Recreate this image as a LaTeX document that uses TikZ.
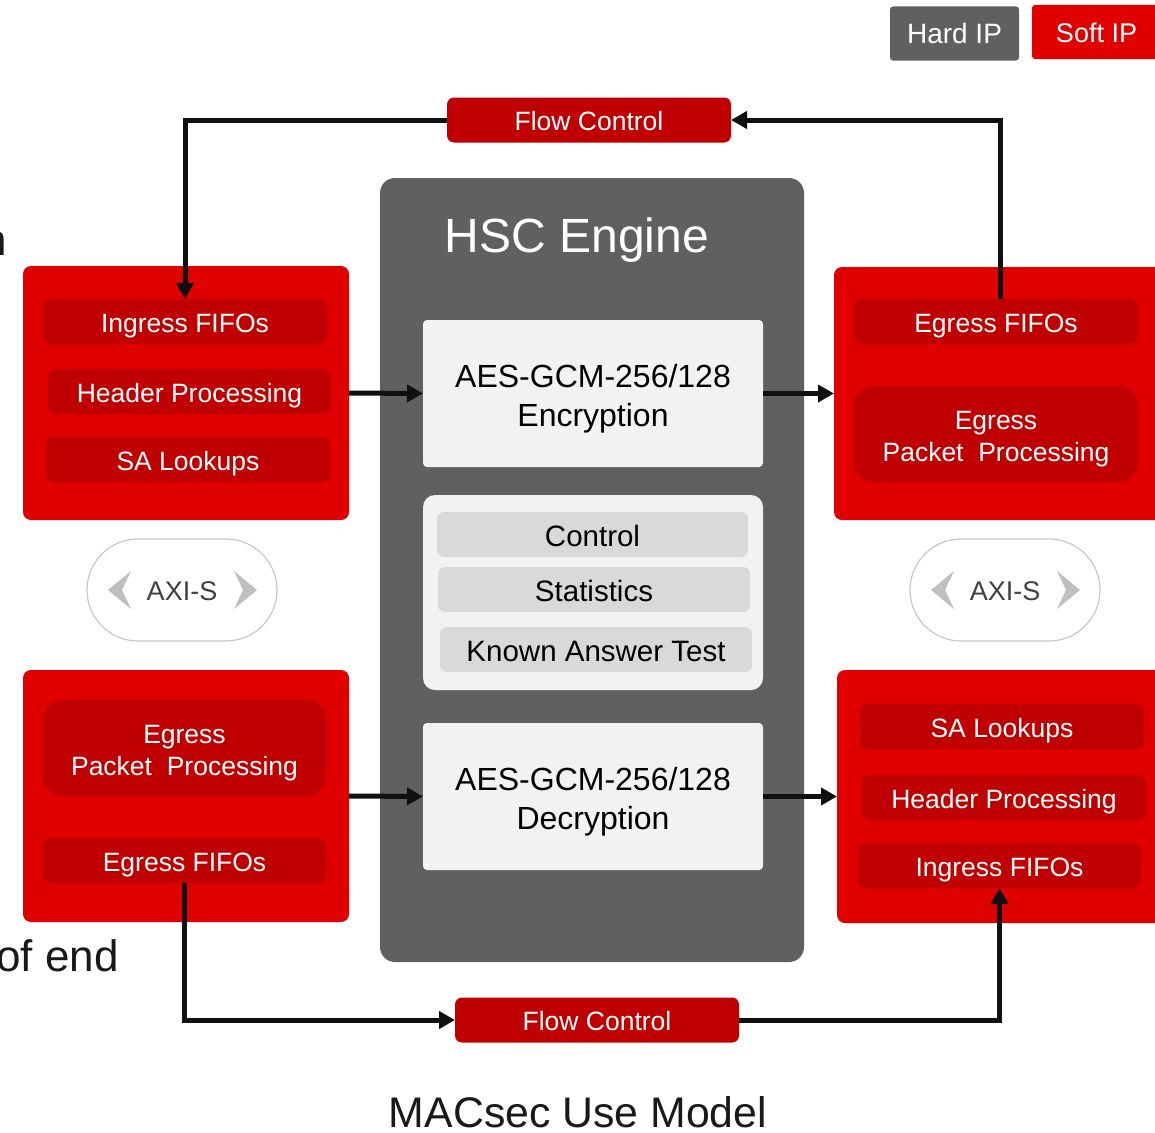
\documentclass[tikz,border=0pt]{standalone}
\usepackage{fontspec}
\setmainfont{Liberation Sans}
\usetikzlibrary{arrows.meta}
\definecolor{ipred}{HTML}{E00000}
\definecolor{ipdark}{HTML}{C00000}
\definecolor{hardgray}{HTML}{606060}
\definecolor{panel}{HTML}{F2F2F2}
\definecolor{cell}{HTML}{D9D9D9}
\definecolor{pillline}{HTML}{C8C8C8}
\definecolor{chev}{HTML}{BFBFBF}
\definecolor{wire}{HTML}{101010}
% two centred lines whose baseline is that of the first line
\newcommand\twoline[2]{\begin{tabular}[t]{@{}c@{}}#1\\#2\end{tabular}}
\tikzset{
  box/.style={inner sep=0pt, outer sep=0pt},
  redblock/.style={box, fill=ipred, rounded corners=8pt},
  redcell/.style={box, fill=ipdark, rounded corners=8pt, text=white,
                  font=\fontsize{26.5}{32}\selectfont, text height=21pt, text depth=0pt},
  redcellbig/.style={box, fill=ipdark, rounded corners=20pt, text=white,
                  font=\fontsize{26.5}{32}\selectfont, text height=22pt, text depth=32pt},
  engine/.style={box, fill=hardgray, rounded corners=15pt},
  cipher/.style={box, fill=panel, rounded corners=4pt, text=black,
                 font=\fontsize{32}{39}\selectfont, text height=26.5pt, text depth=39pt},
  ctlgroup/.style={box, fill=panel, rounded corners=12pt},
  ctlcell/.style={box, fill=cell, rounded corners=7pt, text=black,
                  font=\fontsize{29.5}{34}\selectfont, text height=23pt, text depth=0pt},
  flowbox/.style={box, fill=ipdark, rounded corners=7pt, text=white,
                  font=\fontsize{26.5}{32}\selectfont, text height=20pt, text depth=0pt},
  pill/.style={box, fill=white, draw=pillline, line width=1.2pt, rounded corners=51pt},
  pilltext/.style={text=black!75, font=\fontsize{27}{32}\selectfont, inner sep=0pt},
  chevron/.style={fill=chev, draw=none},
  legend/.style={box, rounded corners=3pt, text=white, text height=20pt, text depth=0pt},
  arr/.style={draw=wire, line width=5pt, -{Triangle[length=16pt,width=17pt]}},
}
\begin{document}
\begin{tikzpicture}[x=1pt, y=-1pt]
\useasboundingbox (0,0) rectangle (1155,1132);
\clip (0,0) rectangle (1155,1132);
\fill[white] (0,0) rectangle (1155,1132);

% text running in from the page edge
\node[anchor=base east, inner sep=0pt, font=\fontsize{44}{50}\selectfont, text=black!90] (edgeA) at (7,255) {n};
\node[anchor=base west, inner sep=0pt, font=\fontsize{44}{50}\selectfont, text=black!90] (edgeB) at (-4,971) {of end};

% legend
\node[legend, fill=hardgray, font=\fontsize{28}{32}\selectfont, minimum width=129pt, minimum height=54pt] (hard) at (954.5,33.5) {Hard IP};
\node[legend, fill=ipred, font=\fontsize{27}{32}\selectfont, minimum width=129pt, minimum height=54pt] (soft) at (1096.5,32) {Soft IP};

% engine
\node[engine, minimum width=424pt, minimum height=784pt] (eng) at (592,570) {};
\node[text=white, inner sep=0pt, font=\fontsize{48}{54}\selectfont, anchor=base] (engt) at (577,252) {HSC Engine};
\node[cipher, minimum width=340pt, minimum height=147pt] (enc) at (593,393.5) {\twoline{AES-GCM-256/128}{Encryption}};
\node[ctlgroup, minimum width=340pt, minimum height=195pt] (ctl) at (593,592.5) {};
\node[ctlcell, minimum width=311pt, minimum height=45pt] (ctlA) at (592.5,534.5) {Control};
\node[ctlcell, minimum width=312pt, minimum height=45pt] (ctlB) at (594,589.5) {Statistics};
\node[ctlcell, minimum width=312pt, minimum height=45pt] (ctlC) at (596,649.5) {Known Answer Test};
\node[cipher, minimum width=340pt, minimum height=147pt] (dec) at (593,796.5) {\twoline{AES-GCM-256/128}{Decryption}};

% ingress side, top left
\node[redblock, minimum width=326pt, minimum height=254pt] (lt) at (186,393) {};
\node[redcell, minimum width=284pt, minimum height=45pt] (ltA) at (185,321.5) {Ingress FIFOs};
\node[redcell, minimum width=283pt, minimum height=45pt] (ltB) at (189.5,391.5) {Header Processing};
\node[redcell, minimum width=284pt, minimum height=45pt] (ltC) at (188,459.5) {SA Lookups};

% egress side, top right
\node[redblock, minimum width=340pt, minimum height=253pt] (rt) at (1004,393.5) {};
\node[redcell, minimum width=284pt, minimum height=45pt] (rtA) at (996,321.5) {Egress FIFOs};
\node[redcellbig, minimum width=284pt, minimum height=96pt] (rtB) at (996,434) {\twoline{Egress}{Packet\ \ Processing}};

% egress side, bottom left
\node[redblock, minimum width=326pt, minimum height=252pt] (lb) at (186,796) {};
\node[redcellbig, minimum width=283pt, minimum height=96pt] (lbA) at (184.5,748) {\twoline{Egress}{Packet\ \ Processing}};
\node[redcell, minimum width=283pt, minimum height=45pt] (lbB) at (184.5,860.5) {Egress FIFOs};

% ingress side, bottom right
\node[redblock, minimum width=340pt, minimum height=253pt] (rb) at (1007,796.5) {};
\node[redcell, minimum width=284pt, minimum height=45pt] (rbA) at (1002,726.5) {SA Lookups};
\node[redcell, minimum width=284pt, minimum height=45pt] (rbB) at (1004,797.5) {Header Processing};
\node[redcell, minimum width=283pt, minimum height=45pt] (rbC) at (999.5,865.5) {Ingress FIFOs};

% AXI-S links
\node[pill, minimum width=190pt, minimum height=102pt] (axl) at (182,590) {};
\node[pilltext] (axlt) at (182,591) {AXI-S};
\fill[chevron] (131,571) -- (108,590) -- (131,609) -- (122,590) -- cycle;
\fill[chevron] (234,571) -- (257,590) -- (234,609) -- (243,590) -- cycle;
\node[pill, minimum width=190pt, minimum height=102pt] (axr) at (1005,590) {};
\node[pilltext] (axrt) at (1005,591) {AXI-S};
\fill[chevron] (954,571) -- (931,590) -- (954,609) -- (945,590) -- cycle;
\fill[chevron] (1057,571) -- (1080,590) -- (1057,609) -- (1066,590) -- cycle;

% flow control
\node[flowbox, minimum width=284pt, minimum height=45pt] (fct) at (589,120) {Flow Control};
\node[flowbox, minimum width=284pt, minimum height=45pt] (fcb) at (597,1020) {Flow Control};

% connectors
\draw[arr] (fct.west) -| (ltA.north);
\draw[arr] ([xshift=4pt]rtA.north) |- (fct.east);
\draw[arr] (lt.east) -- (enc.west);
\draw[arr] (enc.east) -- (rt.west);
\draw[arr] (lb.east) -- (dec.west);
\draw[arr] (dec.east) -- (rb.west);
\draw[arr] (lbB.south) |- (fcb.west);
\draw[arr] (fcb.east) -| (rbC.south);

% caption
\node[anchor=base, inner sep=0pt, font=\fontsize{42.8}{48}\selectfont, text=black!90, text depth=0pt] (cap) at (578,1127.5) {MACsec Use Model};
\end{tikzpicture}
\end{document}
